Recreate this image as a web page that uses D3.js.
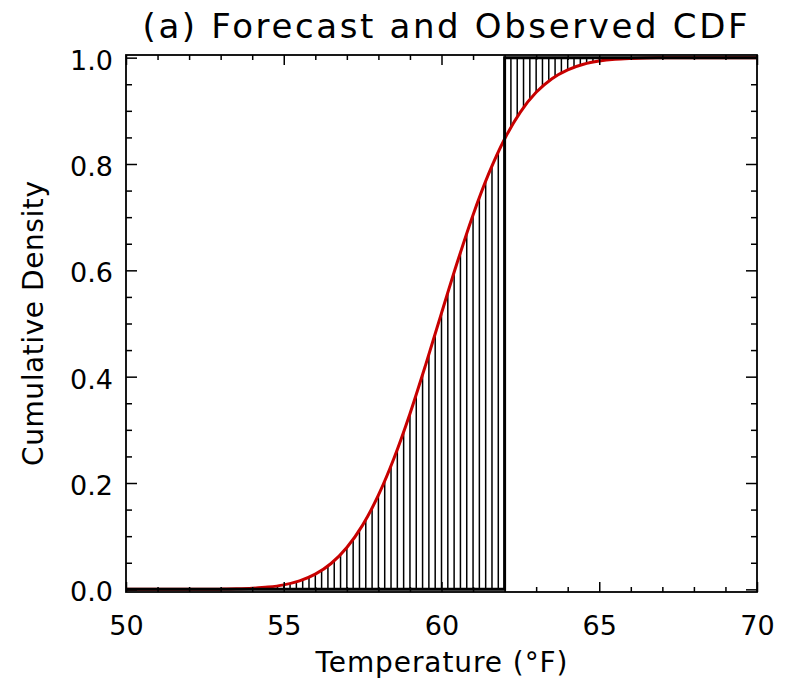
<!DOCTYPE html>
<html><head><meta charset="utf-8">
<script src="https://cdn.jsdelivr.net/npm/d3@7"></script>
<style>body{margin:0;background:#fff}svg{display:block}</style>
</head><body>
<svg id="c" width="785" height="679"></svg>
<script>
// ---- data ----
const temps = [50,50.5,51,51.5,52,52.5,53,53.5,54,54.5,55,55.5,56,56.5,57,57.5,58,58.5,59,59.5,60,60.5,61,61.5,62,62.5,63,63.5,64,64.5,65,65.5,66,66.5,67,67.5,68,68.5,69,69.5,70];
const forecastCDF = [0,0,0,0,0.00006,0.00015,0.0004,0.0009,0.002,0.0042,0.0084,0.0159,0.0286,0.0486,0.0786,0.1208,0.177,0.2474,0.3303,0.4227,0.5195,0.6151,0.7043,0.7823,0.8471,0.8977,0.9348,0.9605,0.9772,0.9876,0.9936,0.9969,0.9985,0.9994,0.9997,0.9999,1,1,1,1,1];
const observedTemp = 62;
const observedSteps = [[50,0],[62,0],[62,1],[70,1]];
const xMajorTicks = [50,55,60,65,70];
const xMinorTicks = [51,52,53,54,56,57,58,59,61,62,63,64,66,67,68,69];
const yMajorTicks = [0,0.2,0.4,0.6,0.8,1.0];
const yMinorTicks = [0.05,0.1,0.15,0.25,0.3,0.35,0.45,0.5,0.55,0.65,0.7,0.75,0.85,0.9,0.95];
const hatchStep = 0.2;
const titleText = "(a) Forecast and Observed CDF";
const xLabel = "Temperature (\u00B0F)";
const yLabel = "Cumulative Density";

// ---- layout ----
const L = 126, R = 757, T = 55, B = 592;
const font = "DejaVu Sans, sans-serif";
const svg = d3.select("#c");
const x = d3.scaleLinear().domain([50,70]).range([L,R]);
const y = d3.scaleLinear().domain([-0.005,1.005]).range([B,T]);
const fInterp = d3.scaleLinear().domain(temps).range(forecastCDF);

svg.append("defs").append("clipPath").attr("id","clip")
  .append("rect").attr("x",L).attr("y",T).attr("width",R-L).attr("height",B-T);

const plot = svg.append("g").attr("clip-path","url(#clip)");

// hatching between forecast and observed CDFs
const hatchTemps = d3.range(Math.round((70-50)/hatchStep)+1).map(i => 50 + i*hatchStep);
plot.append("g").selectAll("line").data(hatchTemps).join("line")
  .attr("x1", d => x(d)).attr("x2", d => x(d))
  .attr("y1", d => y(d < observedTemp - 1e-9 ? 0 : 1))
  .attr("y2", d => y(fInterp(d)))
  .attr("stroke","#000").attr("stroke-width",1.5);

// forecast CDF (red)
plot.append("path").datum(temps.map((t,i)=>[t,forecastCDF[i]]))
  .attr("d", d3.line().x(d=>x(d[0])).y(d=>y(d[1])).curve(d3.curveMonotoneX))
  .attr("fill","none").attr("stroke","#c80000").attr("stroke-width",3);

// observed CDF (black step)
plot.append("path").datum(observedSteps)
  .attr("d", d3.line().x(d=>x(d[0])).y(d=>y(d[1])))
  .attr("fill","none").attr("stroke","#000").attr("stroke-width",3);

// ---- axes (inward ticks on all four sides) ----
function styleAxis(g){
  g.select(".domain").remove();
  g.selectAll(".tick line").attr("stroke","#000").attr("stroke-width",1.5);
  g.selectAll(".tick text").attr("font-family",font).attr("font-size",27).attr("fill","#000");
}
svg.append("g").attr("transform",`translate(0,${B})`)
  .call(d3.axisBottom(x).tickValues(xMajorTicks).tickSize(-10).tickPadding(24).tickFormat(d3.format("d"))).call(styleAxis);
svg.append("g").attr("transform",`translate(0,${B})`)
  .call(d3.axisBottom(x).tickValues(xMinorTicks).tickSize(-5).tickFormat("")).call(styleAxis);
svg.append("g").attr("transform",`translate(0,${T})`)
  .call(d3.axisTop(x).tickValues(xMajorTicks).tickSize(-10).tickFormat("")).call(styleAxis);
svg.append("g").attr("transform",`translate(0,${T})`)
  .call(d3.axisTop(x).tickValues(xMinorTicks).tickSize(-5).tickFormat("")).call(styleAxis);
const yl = svg.append("g").attr("transform",`translate(${L},0)`)
  .call(d3.axisLeft(y).tickValues(yMajorTicks).tickSize(-11).tickPadding(13).tickFormat(d3.format(".1f"))).call(styleAxis);
yl.selectAll(".tick text").attr("dy","0.42em");
svg.append("g").attr("transform",`translate(${L},0)`)
  .call(d3.axisLeft(y).tickValues(yMinorTicks).tickSize(-6).tickFormat("")).call(styleAxis);
svg.append("g").attr("transform",`translate(${R},0)`)
  .call(d3.axisRight(y).tickValues(yMajorTicks).tickSize(-11).tickFormat("")).call(styleAxis);
svg.append("g").attr("transform",`translate(${R},0)`)
  .call(d3.axisRight(y).tickValues(yMinorTicks).tickSize(-6).tickFormat("")).call(styleAxis);

// frame
svg.append("rect").attr("x",L).attr("y",T).attr("width",R-L).attr("height",B-T)
  .attr("fill","none").attr("stroke","#000").attr("stroke-width",1.8);

// ---- texts ----
svg.append("text").attr("x",445).attr("y",38).attr("text-anchor","middle")
  .attr("font-family",font).attr("font-size",34).attr("fill","#000")
  .attr("textLength",605).attr("lengthAdjust","spacing").text(titleText);
svg.append("text").attr("x",(L+R)/2).attr("y",672).attr("text-anchor","middle")
  .attr("font-family",font).attr("font-size",28).attr("fill","#000")
  .attr("textLength",252).attr("lengthAdjust","spacing").text(xLabel);
svg.append("text").attr("transform",`translate(43,${(T+B)/2}) rotate(-90)`).attr("text-anchor","middle")
  .attr("font-family",font).attr("font-size",28).attr("fill","#000")
  .attr("textLength",285).attr("lengthAdjust","spacing").text(yLabel);
</script>
</body></html>
